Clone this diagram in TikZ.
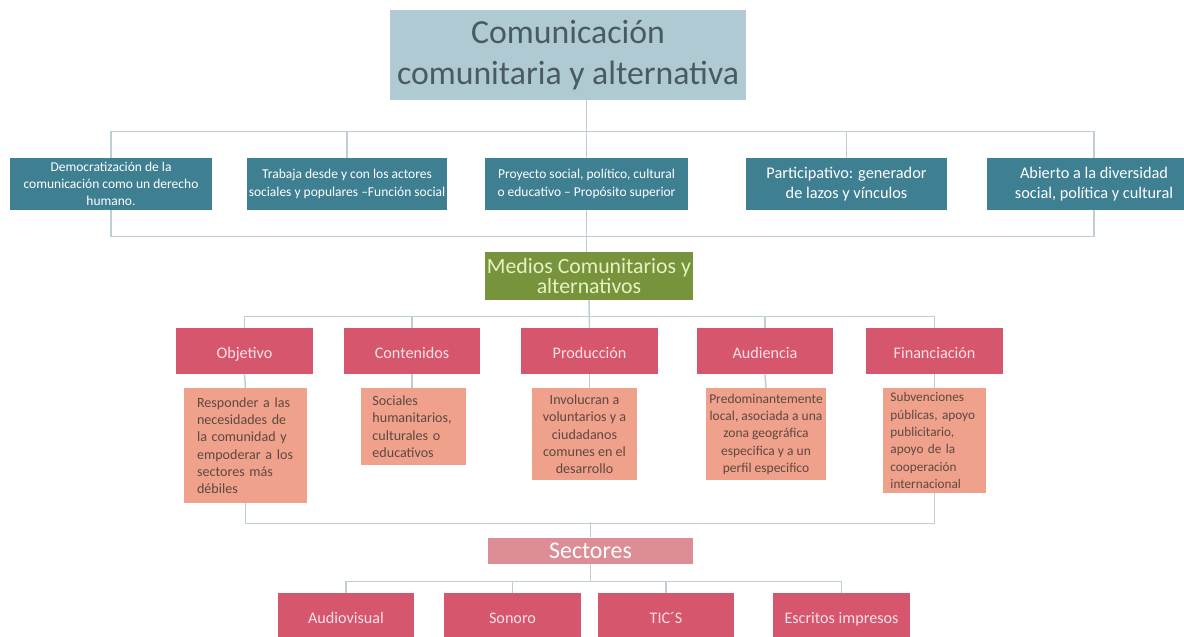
\documentclass[tikz,border=0pt]{standalone}
\usepackage{fontspec}
\setmainfont{Carlito}
\definecolor{titlefill}{HTML}{AFCAD3}
\definecolor{titletext}{HTML}{4A5A61}
\definecolor{tealfill}{HTML}{3F7F92}
\definecolor{greenfill}{HTML}{77933C}
\definecolor{greentext}{HTML}{E6F2C2}
\definecolor{redfill}{HTML}{D5566D}
\definecolor{redtext}{HTML}{FBE1E5}
\definecolor{salmonfill}{HTML}{EFA18B}
\definecolor{salmontext}{HTML}{5E4841}
\definecolor{sectfill}{HTML}{DC8D95}
\definecolor{linkcol}{HTML}{BDCFD5}
\begin{document}
\begin{tikzpicture}[x=0.025cm,y=-0.025cm,
    link/.style={draw=linkcol,line width=1.1pt},
    tealbox/.style={fill=tealfill,text=white,align=center,minimum height=1.3cm,inner sep=1pt},
    redbox/.style={fill=redfill,text=redtext,minimum width=3.42cm,minimum height=1.15cm,
      text height=11pt,text depth=1pt,font=\fontsize{11.5}{13}\selectfont},
    detail/.style={fill=salmonfill,text=salmontext,anchor=north,inner sep=2pt,
      font=\fontsize{10}{12.3}\selectfont}]
  \useasboundingbox (0,0) rectangle (1184,637);
  % title
  \node[fill=titlefill,text=titletext,minimum width=8.92cm,minimum height=2.25cm,align=center,
    font=\fontsize{24}{29}\selectfont] (title) at (568,55) {Comunicación\\comunitaria y alternativa};
  % features
  \node[tealbox,minimum width=5.05cm,font=\fontsize{9.6}{12.3}\selectfont] (t1) at (111,184)
    {Democratización de la\\comunicación como un derecho\\humano.};
  \node[tealbox,minimum width=5cm,font=\fontsize{9.6}{12.3}\selectfont] (t2) at (347,184)
    {Trabaja desde y con los actores\\sociales y populares --Función social};
  \node[tealbox,minimum width=5.08cm,font=\fontsize{9.6}{12.3}\selectfont] (t3) at (586.5,184)
    {Proyecto social, político, cultural\\o educativo -- Propósito superior};
  \node[tealbox,minimum width=5.02cm,font=\fontsize{11.6}{14.5}\selectfont] (t4) at (846.5,184)
    {Participativo: generador\\de lazos y vínculos};
  \node[tealbox,minimum width=5.35cm,font=\fontsize{11.6}{14.5}\selectfont] (t5) at (1094,184)
    {Abierto a la diversidad\\social, política y cultural};
  \draw[link] (title.south -| t3.north) -- (t3.north);
  \draw[link] (t1.north) -- ++(0,-26) -| (t5.north);
  \draw[link] (t2.north) -- ++(0,-26);
  \draw[link] (t4.north) -- ++(0,-26);
  \draw[link] (t1.south) -- ++(0,26) -| (t5.south);
  % media
  \node[fill=greenfill,text=greentext,minimum width=5.15cm,minimum height=1.2cm,align=center,
    inner sep=1pt,font=\fontsize{15.5}{12}\selectfont] (medios) at (589,276)
    {Medios Comunitarios y\\alternativos};
  \draw[link] (t3.south) -- (t3.south |- medios.north);
  % aspects
  \node[redbox] (obj) at (244.5,351) {Objetivo};
  \node[redbox] (cont) at (412,351) {Contenidos};
  \node[redbox] (prod) at (589.5,351) {Producción};
  \node[redbox] (aud) at (765,351) {Audiencia};
  \node[redbox] (fin) at (934.5,351) {Financiación};
  \draw[link] (obj.north) -- ++(0,-11) -| (fin.north);
  \draw[link] (cont.north) -- ++(0,-11);
  \draw[link] (aud.north) -- ++(0,-11);
  \draw[link] (medios.south) -- (prod.north);
  % details
  \node[detail,minimum width=3.07cm,minimum height=2.87cm,text width=2.42cm,align=left] (objd) at (245.5,388)
    {Responder a las\\necesidades de\\la comunidad y\\empoderar a los\\sectores más\\débiles};
  \node[detail,minimum width=2.62cm,minimum height=1.92cm,text width=2.05cm,align=left] (contd) at (413.5,388)
    {Sociales\\humanitarios,\\culturales o\\educativos};
  \node[detail,minimum width=2.62cm,minimum height=2.3cm,align=center] (prodd) at (584.5,388)
    {Involucran a\\voluntarios y a\\ciudadanos\\comunes en el\\desarrollo};
  \node[detail,minimum width=3cm,minimum height=2.3cm,align=center,
    font=\fontsize{9.6}{12.3}\selectfont] (audd) at (766,388)
    {Predominantemente\\local, asociada a una\\zona geográfica\\especifica y a un\\perfil especifico};
  \node[detail,minimum width=2.57cm,minimum height=2.62cm,text width=2.2cm,align=left,
    font=\fontsize{9.4}{12.3}\selectfont] (find) at (934.5,388)
    {Subvenciones\\públicas, apoyo\\publicitario,\\apoyo de la\\cooperación\\internacional};
  \draw[link] (obj.south) -- (objd.north);
  \draw[link] (cont.south) -- (cont.south |- contd.north);
  \draw[link] (prod.south) -- (prod.south |- prodd.north);
  \draw[link] (aud.south) -- (audd.north);
  \draw[link] (fin.south) -- (find.north);
  % sectors
  \node[fill=sectfill,text=white,minimum width=5.12cm,minimum height=0.65cm,inner sep=0pt,
    font=\fontsize{17}{17}\selectfont] (sect) at (590.5,550.5) {Sectores};
  \draw[link] (objd.south) -- ++(0,20) -| (find.south);
  \draw[link] (sect.north) -- ++(0,-15);
  \node[redbox,minimum width=3.4cm] (av) at (346,616) {Audiovisual};
  \node[redbox,minimum width=3.4cm] (son) at (512.5,616) {Sonoro};
  \node[redbox,minimum width=3.4cm] (tic) at (666,616) {TIC´S};
  \node[redbox,minimum width=3.4cm] (esc) at (841.5,616) {Escritos impresos};
  \draw[link] (av.north) -- ++(0,-11) -| (esc.north);
  \draw[link] (son.north) -- ++(0,-11);
  \draw[link] (tic.north) -- ++(0,-11);
  \draw[link] (sect.south) -- ++(0,18);
\end{tikzpicture}
\end{document}
